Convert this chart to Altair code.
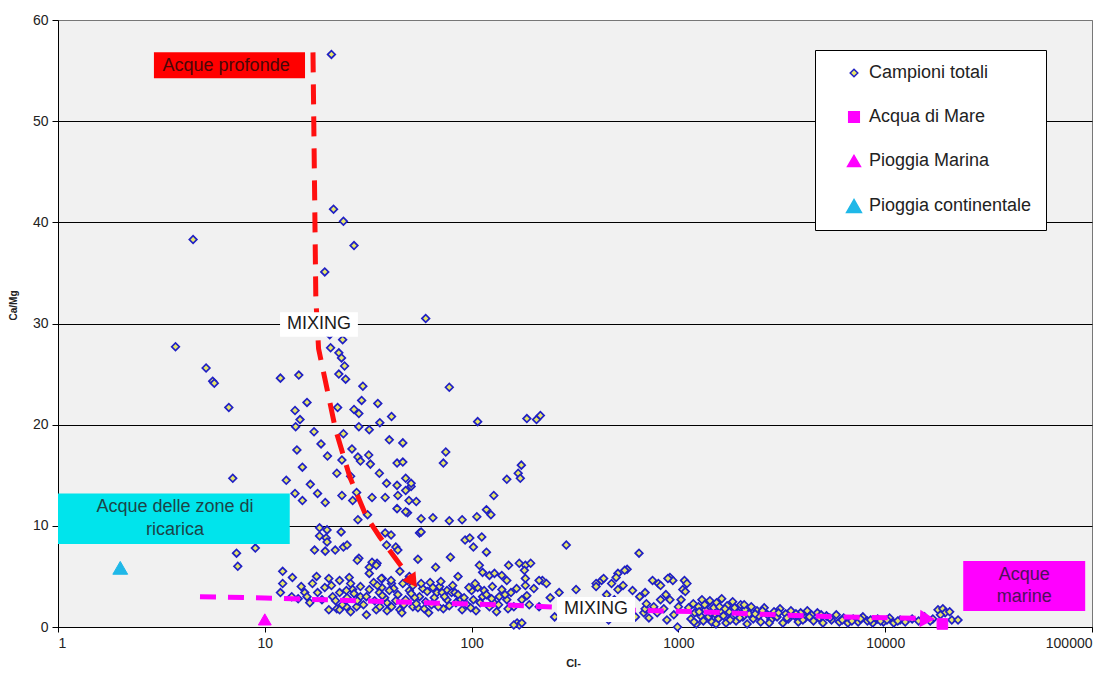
import altair as alt
import pandas as pd

FONT = "Liberation Sans"

# ---------------- data ----------------
series = ["Campioni totali", "Acqua di Mare", "Pioggia Marina", "Pioggia continentale"]

# samples: (Cl-, Ca/Mg)
samples_upper = [
    (21, 56.6), (4.5, 38.3), (21.5, 41.3), (24, 40.1), (27, 37.7), (19.5, 35.1), (60, 30.5),
    (3.7, 27.7), (5.2, 25.6), (5.6, 24.3), (5.7, 24.1), (6.7, 21.7), (11.9, 24.6), (14.6, 24.9),
    (16, 22.2), (14, 21.4), (14.8, 20.5), (20.6, 28.9), (23.8, 28.4), (20.8, 27.6), (22.8, 27.1),
    (23.5, 26.6), (24.3, 25.8), (22.8, 25.0), (24.6, 24.5), (29.8, 23.8), (35.2, 22.1), (22.5, 21.7),
    (29.4, 22.4), (27, 21.5), (28.5, 21.1), (41, 20.8), (78, 23.7), (107, 20.3), (185, 20.6),
    (206, 20.5), (215, 20.9), (36, 20.2),
]
samples_mid = [
    (14.1, 19.8), (17.3, 19.3), (24, 19.1), (28.5, 19.8), (32, 19.5), (18.7, 18.1), (14.3, 17.5),
    (20.1, 16.9), (23.6, 16.5), (28.2, 16.8), (31.8, 17.0), (26.4, 17.6), (46.5, 18.2), (75, 17.3),
    (73, 16.2), (15.2, 15.8), (22.3, 15.2), (32.4, 16.1), (35.8, 15.2), (7.0, 14.7), (12.7, 14.5),
    (16.6, 14.1), (26, 14.9), (29, 16.4), (43.6, 16.2), (48, 14.7), (38.8, 14.2), (43.6, 14.0),
    (51, 13.9), (14, 13.2), (15.2, 12.5), (18, 13.2), (19.6, 12.3), (23.6, 13.0), (26.6, 12.5),
    (27.8, 13.3), (33, 12.8), (38.2, 12.8), (44, 13.0), (48, 13.5), (49.8, 12.5), (54, 12.4),
    (43.6, 11.7), (49, 11.3), (57, 10.7), (65, 10.8), (78, 10.5), (28.2, 10.6), (31.4, 11.1),
    (90, 10.6), (106, 10.9), (118, 11.6), (124, 11.1), (128, 13.0), (148, 14.6), (168, 15.2),
    (174, 16.0), (172, 14.7), (46.5, 16.3), (51, 14.2), (48, 11.4), (40, 18.5),
]
samples_low = [
    (18.4, 9.8), (20, 9.6), (18.4, 9.0), (19.8, 8.8), (23.4, 9.4), (20, 8.4), (19.6, 7.5),
    (21.9, 7.6), (24, 7.9), (25, 8.1), (28.5, 6.8), (38.2, 9.3), (40.8, 9.1), (38.8, 8.1),
    (43, 7.9), (44, 7.6), (56, 9.3), (55, 6.7), (79, 6.9), (67, 5.9), (33, 6.4), (32, 5.9),
    (34.9, 6.3), (7.3, 7.3), (7.4, 6.0), (9.0, 7.8), (17.4, 7.6), (28, 6.6), (93, 8.6), (98, 8.8),
    (102, 7.9), (112, 8.9), (118, 7.4), (109, 6.1), (113, 5.4), (122, 5.1), (129, 5.3), (140, 5.1),
    (151, 6.1), (170, 6.3), (182, 6.1), (193, 6.3), (180, 5.6), (287, 8.1), (645, 7.3), (86, 5.0),
    (565, 5.7), (57, 9.4), (12.2, 5.5), (17.8, 5.0), (32, 5.3), (45, 5.5), (50, 5.0), (510, 5.3),
    (550, 5.6), (34.6, 6.1),
]
samples_dense = [
    (13.6, 4.9), (12.2, 4.3), (17, 4.3), (20.4, 4.8), (11.9, 3.4), (13.5, 3.0), (15.6, 3.4),
    (18, 3.4), (18.9, 2.7), (20.4, 1.7), (22.3, 1.8), (24.8, 2.0), (26.6, 3.7), (29, 3.0),
    (31, 1.2), (34.6, 1.7), (36.8, 3.9), (39, 2.4), (23.7, 2.2), (37, 4.8), (41, 4.3), (25.6, 4.9),
    (26, 4.3), (24.8, 3.6), (29, 4.0), (33.6, 4.4), (36.6, 4.8), (40.8, 4.6), (46.5, 4.3), (42, 3.8),
    (52, 4.1), (63, 4.4), (70, 4.0), (76, 3.6), (80, 3.4), (16, 3.0), (21.3, 3.0), (23, 3.4),
    (23, 1.7), (27.8, 2.0), (31, 3.0), (35.8, 3.4), (41, 2.0), (45, 1.7), (48, 2.7), (52, 2.0),
    (56, 3.0), (60, 2.5), (62, 1.4), (68, 3.4), (72, 3.4), (76, 2.7), (84, 2.4), (83, 3.4),
    (90, 1.7), (100, 3.6), (102, 2.7), (107, 3.9), (113, 3.0), (122, 2.0), (126, 4.0), (136, 3.0),
    (148, 2.7), (155, 3.4), (160, 2.0), (166, 0.4), (170, 0.2), (160, 0.2), (175, 0.4), (175, 2.7),
    (190, 2.2), (212, 2.0), (220, 4.6), (230, 4.3), (252, 1.0), (265, 3.4), (280, 1.7), (320, 3.7),
    (330, 1.4), (400, 4.3), (425, 4.6), (475, 4.3), (500, 4.9), (510, 3.7), (490, 2.7), (460, 0.7),
    (400, 1.4), (650, 3.0), (680, 1.4), (750, 4.6), (800, 4.3), (910, 4.9), (940, 4.6), (1070, 4.6),
    (1050, 3.7), (820, 2.7), (910, 2.7), (1030, 2.7), (790, 1.4), (880, 0.7), (690, 1.8), (990, 0.0),
    (148, 4.6), (182, 4.1), (212, 4.6), (182, 4.8), (435, 4.8), (400, 4.0), (540, 4.1), (690, 3.4),
    (820, 4.1), (890, 4.8), (1100, 4.3), (1080, 3.5), (44, 3.2), (47, 2.2), (50, 3.6), (53, 2.9),
    (55, 1.9), (58, 3.8), (64, 2.2), (66, 2.9), (73, 1.8), (88, 2.8), (95, 2.2), (97, 3.9),
    (105, 1.6), (110, 2.4), (115, 3.6), (128, 2.4), (132, 1.5), (140, 3.7), (38, 2.9), (36, 2.0),
    (28, 2.6), (26, 1.5), (22, 2.6), (14.5, 2.8), (240, 2.9), (300, 2.5), (350, 2.1), (370, 1.0),
    (450, 3.2), (520, 1.8), (560, 2.4), (600, 3.6), (620, 1.0), (700, 2.3), (720, 0.9), (760, 2.0),
    (850, 1.8), (950, 1.2), (870, 3.2), (1000, 2.0),
    (21, 4.1), (23, 4.6), (25, 2.9), (27, 3.3), (30, 2.2), (32, 3.7), (34, 2.6), (35, 4.1),
    (37, 3.1), (39, 1.6), (40, 3.6), (43, 2.6), (46, 1.4), (49, 4.6), (51, 3.3), (54, 2.3),
    (57, 4.3), (59, 1.8), (61, 3.5), (65, 3.9), (69, 2.0), (71, 4.5), (74, 3.0), (78, 2.1),
    (81, 4.1), (86, 3.2), (92, 2.9), (99, 1.9), (104, 4.3), (118, 3.2), (125, 2.8), (135, 2.2),
    (145, 3.2), (150, 1.8), (165, 3.8), (185, 3.1), (200, 3.8), (15, 4.0), (19.5, 3.9), (16.5, 2.4),
]
samples_saline = [
    (1150, 0.8), (1180, 2.3), (1200, 1.4), (1220, 0.3), (1250, 2.0), (1280, 1.1), (1300, 2.7),
    (1320, 0.6), (1350, 1.7), (1380, 2.3), (1400, 1.0), (1420, 2.6), (1450, 0.5), (1480, 1.9),
    (1500, 1.3), (1530, 2.4), (1560, 0.8), (1600, 1.6), (1620, 2.8), (1650, 1.1), (1700, 0.4),
    (1720, 2.1), (1760, 1.5), (1800, 0.9), (1830, 2.5), (1870, 1.9), (1900, 0.6), (1950, 1.4),
    (2000, 2.2), (2050, 1.0), (2100, 1.7), (2150, 0.3), (2200, 1.3), (2250, 2.0), (2300, 0.8),
    (2400, 1.6), (2450, 1.1), (2500, 0.5), (2600, 1.9), (2700, 1.2), (2800, 0.7), (2900, 1.5),
    (3000, 1.0), (3100, 1.8), (3200, 0.4), (3300, 1.3), (3400, 0.8), (3500, 1.6), (3650, 1.1),
    (3800, 0.5), (3900, 1.4), (4100, 0.9), (4200, 1.6), (4400, 1.2), (4500, 0.6), (4700, 1.4),
    (4800, 0.9), (5000, 0.4), (5200, 1.1), (5500, 0.7), (5800, 1.2), (6000, 0.5), (6300, 0.9),
    (6600, 0.4), (7000, 0.8), (7400, 0.5), (7800, 1.0), (8200, 0.6), (8700, 0.4), (9200, 0.8),
    (9800, 0.5), (10500, 0.9), (11000, 0.4), (11800, 0.7), (12500, 0.5), (13500, 0.8), (14500, 0.6),
    (15500, 1.0), (17000, 0.8), (18000, 1.7), (19000, 1.8), (19500, 1.4), (20500, 1.5), (21000, 0.7),
    (22500, 0.7),
    (1120, 1.9), (1190, 0.5), (1260, 1.5), (1340, 2.2), (1430, 1.4), (1520, 0.3), (1580, 2.0),
    (1680, 1.8), (1780, 0.7), (1980, 0.9), (2080, 2.2), (2350, 1.3), (2550, 1.6), (2750, 0.4),
    (3050, 1.4), (3350, 0.9), (3700, 1.3), (4000, 0.7), (4300, 1.0), (4900, 1.2), (5400, 0.9),
    (6200, 0.7), (6900, 0.6), (7600, 0.8), (8500, 0.7), (9500, 0.6), (10200, 0.7), (11500, 0.6),
    (16500, 0.6), (18500, 1.2),
]

# reference end-members
special_series = series[1:]
special_cl = [18900, 10, 2]
special_ratio = [0.3, 0.75, 5.85]

# mixing paths
deep_path_cl = [17.1, 17.65, 18.2, 22, 25.8, 31, 36, 44.6, 50]
deep_path_ratio = [56.8, 32.5, 27.5, 19.5, 14.8, 10.9, 8.9, 6.3, 5.0]
deep_head_cl, deep_head_ratio = [52], [4.5]

marine_path_cl = [4.86, 10, 45, 150, 500, 1300, 3000, 6000, 11000, 15000]
marine_path_ratio = [3.0, 2.87, 2.47, 2.17, 1.7, 1.5, 1.2, 1.0, 0.9, 0.85]
marine_head_cl, marine_head_ratio = [16000], [0.8]

# annotation boxes (data coordinates)
box_names = ["profonde", "ricarica", "marine", "mix1", "mix2"]
box_cl1 = [2.91, 1.0, 23840, 11.85, 259]
box_cl2 = [15.65, 13.2, 92700, 28.2, 617]
box_r1 = [54.25, 8.2, 1.58, 28.7, 0.49]
box_r2 = [56.8, 13.2, 6.52, 31.1, 2.96]

label_names = ["profonde", "mix1", "mix2", "ricarica", "ricarica", "marine", "marine"]
label_text = ["Acque profonde", "MIXING", "MIXING", "Acque delle zone di", "ricarica", "Acque", "marine"]
label_cl = [6.5, 18.3, 400, 3.68, 3.68, 47000, 47000]
label_ratio = [55.5, 30.0, 1.78, 11.86, 9.6, 5.14, 2.96]

# ---------------- styles ----------------
BOX_FILL = {"profonde": "#ff0000", "ricarica": "#00e4ec", "marine": "#ff00ff", "mix1": "#ffffff", "mix2": "#ffffff"}
TEXT_COLOR = {"profonde": "#4a0808", "ricarica": "#1c4448", "marine": "#50105a", "mix1": "#1a1a1a", "mix2": "#1a1a1a"}

# ---------------- frames ----------------
all_samples = samples_upper + samples_mid + samples_low + samples_dense + samples_saline
df_s = pd.DataFrame(all_samples, columns=["cl", "ratio"])
df_s["series"] = series[0]
df_sp = pd.DataFrame({"cl": special_cl, "ratio": special_ratio, "series": special_series})

xscale = alt.Scale(type="log", domain=[1, 100000], nice=False)
yscale = alt.Scale(domain=[0, 60], nice=False, zero=True)

x_axis = alt.Axis(
    values=[1, 10, 100, 1000, 10000, 100000], format="d", grid=False,
    tickSize=5, labelPadding=4, labelFontSize=14, labelFont=FONT, labelColor="#222",
    domainColor="black", tickColor="black",
    title="Cl-", titleFont=FONT, titleFontSize=11, titleFontWeight="bold", titleColor="#222",
    titleX=515, titleY=36, titleBaseline="middle",
)
y_axis = alt.Axis(
    values=[0, 10, 20, 30, 40, 50, 60], format="d", grid=True,
    gridColor={"condition": {"test": "datum.value >= 60", "value": "#777777"}, "value": "black"},
    gridWidth=1, tickSize=6, labelPadding=4, labelFontSize=14, labelFont=FONT, labelColor="#222",
    domainColor="black", tickColor="black",
    title="Ca/Mg", titleFont=FONT, titleFontSize=10, titleFontWeight="bold", titleColor="#222",
    titleX=-45, titleY=285, titleBaseline="middle", titleAngle=270,
)

X = alt.X("cl:Q", scale=xscale, axis=x_axis)
Y = alt.Y("ratio:Q", scale=yscale, axis=y_axis)

legend = alt.Legend(
    title=None, orient="none", legendX=757, legendY=30, direction="vertical",
    fillColor="white", strokeColor="black", padding=14, rowPadding=26,
    labelFont=FONT, labelFontSize=18, labelColor="#222", labelOffset=6, labelLimit=400,
    symbolOffset=16, symbolStrokeWidth=1.5,
)
enc_series = dict(
    shape=alt.Shape("series:N", scale=alt.Scale(domain=series, range=["diamond", "square", "triangle-up", "triangle-up"]), legend=legend),
    fill=alt.Fill("series:N", scale=alt.Scale(domain=series, range=["#e6e66a", "#ff00ff", "#ff00ff", "#1fb8e8"]), legend=legend),
    stroke=alt.Stroke("series:N", scale=alt.Scale(domain=series, range=["#2020c4", "#ff00ff", "#ff00ff", "#1fb8e8"]), legend=legend),
    size=alt.Size("series:N", scale=alt.Scale(domain=series, range=[58, 220, 230, 256]), legend=legend),
)

samples = alt.Chart(df_s).mark_point(filled=True, opacity=1, strokeWidth=1.7).encode(x=X, y=Y, **enc_series)
specials = alt.Chart(df_sp).mark_point(filled=True, opacity=1, strokeWidth=1).encode(x=X, y=Y, **enc_series)

deep_df = pd.DataFrame({"cl": deep_path_cl, "ratio": deep_path_ratio, "k": range(len(deep_path_cl))})
marine_df = pd.DataFrame({"cl": marine_path_cl, "ratio": marine_path_ratio, "k": range(len(marine_path_cl))})

deep_line = alt.Chart(deep_df).mark_line(color="#ff1010", strokeWidth=5, strokeDash=[20, 12]).encode(x=X, y=Y, order="k:Q")
marine_line = alt.Chart(marine_df).mark_line(color="#ff00ff", strokeWidth=5, strokeDash=[16, 12]).encode(x=X, y=Y, order="k:Q")

deep_head = alt.Chart(pd.DataFrame({"cl": deep_head_cl, "ratio": deep_head_ratio})).mark_point(
    shape="triangle-up", filled=True, color="#ff1010", opacity=1, size=256, angle=145, strokeWidth=0
).encode(x=X, y=Y)
marine_head = alt.Chart(pd.DataFrame({"cl": marine_head_cl, "ratio": marine_head_ratio})).mark_point(
    shape="triangle-up", filled=True, color="#ff00ff", opacity=1, size=300, angle=93, strokeWidth=0
).encode(x=X, y=Y)

box_df = pd.DataFrame({"name": box_names, "cl": box_cl1, "cl2": box_cl2, "ratio": box_r1, "ratio2": box_r2})
label_df = pd.DataFrame({"name": label_names, "text": label_text, "cl": label_cl, "ratio": label_ratio})

box_layers = []
for name in box_names:
    box_layers.append(
        alt.Chart(box_df[box_df["name"] == name]).mark_rect(fill=BOX_FILL[name], opacity=1).encode(
            x=X, x2="cl2:Q", y=Y, y2="ratio2:Q"
        )
    )
text_layers = []
for name in dict.fromkeys(label_names):
    text_layers.append(
        alt.Chart(label_df[label_df["name"] == name]).mark_text(
            font=FONT, fontSize=18, color=TEXT_COLOR[name], align="center", baseline="middle"
        ).encode(x=X, y=Y, text="text:N")
    )

chart = alt.layer(
    samples, deep_line, marine_line, deep_head, marine_head, specials, *box_layers, *text_layers
).properties(
    width=1034, height=607,
    padding={"left": 50, "top": 12, "right": 17, "bottom": 42},
    autosize=alt.AutoSizeParams(type="none"),
    background="white",
).configure_view(stroke="#777777", fill="#f1f1f1")

chart.save("out.html", embed_options={"renderer": "svg", "actions": False})
